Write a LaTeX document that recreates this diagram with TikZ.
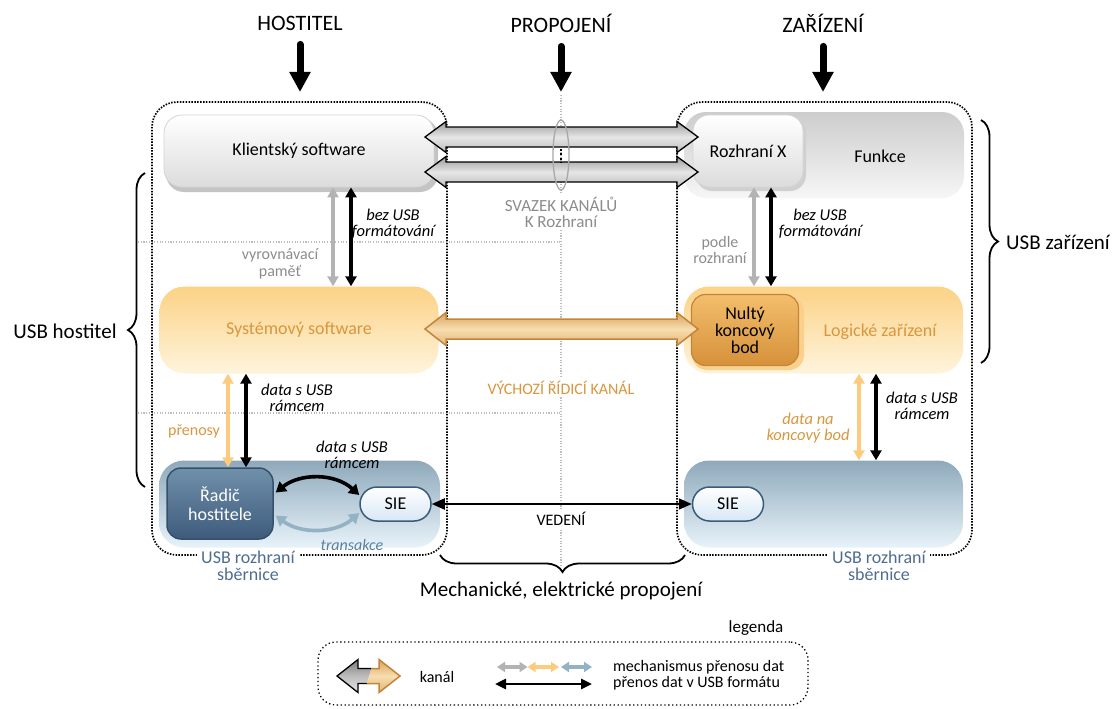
\documentclass[tikz,border=0pt]{standalone}
\usepackage{fontspec}
\setmainfont{Carlito}
\usetikzlibrary{arrows.meta,calc,decorations.pathreplacing}

\definecolor{txtgray}{HTML}{8C8C8C}
\definecolor{txtorange}{HTML}{D9963F}
\definecolor{txtblue}{HTML}{4E6D90}
\definecolor{txtslate}{HTML}{5C7F9C}
\definecolor{arrgray}{HTML}{B3B3B3}
\definecolor{arrorange}{HTML}{FDCB7E}
\definecolor{arrblue}{HTML}{93B2C4}
\definecolor{guidegray}{HTML}{BDBDBD}
\definecolor{ellgray}{HTML}{A8A8A8}
\definecolor{kshade}{HTML}{C4C4C4}
\definecolor{kbottom}{HTML}{DCDCDC}
\definecolor{kedge}{HTML}{D4D4D4}
\definecolor{funtop}{HTML}{CDCDCD}
\definecolor{funbot}{HTML}{F6F6F6}
\definecolor{orgtop}{HTML}{FCD286}
\definecolor{orgbot}{HTML}{FEF4DC}
\definecolor{nulrim}{HTML}{F9D18D}
\definecolor{nultop}{HTML}{F3BE6C}
\definecolor{nulbot}{HTML}{D6913A}
\definecolor{nuledge}{HTML}{C4843A}
\definecolor{bustop}{HTML}{8EA9BB}
\definecolor{busbot}{HTML}{E8F3FA}
\definecolor{radtop}{HTML}{7090AA}
\definecolor{radbot}{HTML}{3E5B7C}
\definecolor{radedge}{HTML}{34506C}
\definecolor{siebot}{HTML}{D8E8F5}
\definecolor{sieedge}{HTML}{3B5B7B}
\definecolor{chtop}{HTML}{9A9A9A}
\definecolor{chmid}{HTML}{E6E6E6}
\definecolor{chbot}{HTML}{BDBDBD}
\definecolor{otop}{HTML}{D9A35A}
\definecolor{omid}{HTML}{F7DDB0}
\definecolor{obot}{HTML}{E3B674}
\definecolor{oedge}{HTML}{C4843A}

% wide double-headed channel: left tip, right tip, centre y, head length,
% head half-width, shaft half-width, path style
\newcommand{\chanarrow}[7]{%
  \path[#7] (#1,#3) -- ({#1+#4},{#3-#5}) -- ({#1+#4},{#3-#6})
    -- ({#2-#4},{#3-#6}) -- ({#2-#4},{#3-#5}) -- (#2,#3)
    -- ({#2-#4},{#3+#5}) -- ({#2-#4},{#3+#6}) -- ({#1+#4},{#3+#6})
    -- ({#1+#4},{#3+#5}) -- cycle;}

\begin{document}
\begin{tikzpicture}[x=1pt,y=-1pt,
  every node/.style={inner sep=0pt, align=center, text=black},
  fs/.style 2 args={font=\fontsize{#1}{#2}\selectfont},
  it/.style={font=\fontsize{16.5}{16}\selectfont\itshape},
  frame/.style={draw, line width=1.7pt, dash pattern=on 1.5pt off 1.4pt, rounded corners=25pt},
  guide/.style={draw=guidegray, line width=1.1pt, dash pattern=on 1.1pt off 1.6pt},
  arr/.style={line width=3.2pt, {Triangle[length=10pt,width=11pt]}-{Triangle[length=10pt,width=11pt]}},
  carr/.style={line width=3.6pt, {Triangle[length=10pt,width=12pt]}-{Triangle[length=10pt,width=12pt]}},
  smallarr/.style={line width=3.4pt, {Triangle[length=8pt,width=10pt]}-{Triangle[length=8pt,width=10pt]}},
  bigarr/.style={line width=7pt, line cap=round, -{Triangle[length=20pt,width=20pt]}},
  hbrace/.style={decorate, decoration={brace, amplitude=17pt}, line width=1.8pt},
  chgray/.style={draw=black, line width=1.3pt, top color=chtop, bottom color=chbot, middle color=chmid},
  chorange/.style={draw=oedge, line width=1.5pt, top color=otop, bottom color=obot, middle color=omid}
]
\useasboundingbox (0,0) rectangle (1119,709);

% column titles
\node[fs={22}{24}] (thost) at (300,23) {HOSTITEL};
\node[fs={22}{24}] (tprop) at (561,23) {PROPOJENÍ};
\node[fs={22}{24}] (tdev) at (823,23) {ZAŘÍZENÍ};
\coordinate (hostin) at (300,92);
\coordinate (propin) at (561,92);
\coordinate (devin) at (823,92);
\draw[bigarr] ($(thost.south)+(0,14)$) -- (hostin);
\draw[bigarr] ($(tprop.south)+(0,14)$) -- (propin);
\draw[bigarr] ($(tdev.south)+(0,14)$) -- (devin);

% light guide lines
\draw[guide] (561,95) -- (561,566);
\draw[guide] (138,242) -- (561,242);
\draw[guide] (138,413) -- (561,413);

% dotted frames
\node[frame, minimum width=295pt, minimum height=453pt] (hostframe) at (299.5,328.5) {};
\node[frame, minimum width=295pt, minimum height=453pt] (devframe) at (824.5,328.5) {};

% host side
\node[rounded corners=18pt, fill=kshade, minimum width=272pt, minimum height=74pt] (klientsh) at (302,155) {};
\node[rounded corners=18pt, top color=white, bottom color=kbottom, draw=kedge, line width=.8pt,
      minimum width=270pt, minimum height=72pt, fs={18}{20}] (klient) at (299,151) {Klientský software};
\node[rounded corners=25pt, top color=orgtop, bottom color=orgbot, minimum width=279pt, minimum height=87pt,
      fs={18}{20}, text=txtorange] (sys) at (299,330) {Systémový software};
\node[rounded corners=25pt, top color=bustop, bottom color=busbot, minimum width=281pt, minimum height=87pt] (busL) at (299.5,504) {};
\node[rounded corners=14pt, top color=radtop, bottom color=radbot, draw=radedge, line width=1.5pt,
      minimum width=106pt, minimum height=71pt, fs={18}{19}, text=white] (rad) at (220,503.5) {Řadič\\hostitele};
\node[rounded corners=17pt, top color=white, bottom color=siebot, draw=sieedge, line width=1.5pt,
      minimum width=71pt, minimum height=34pt, fs={18}{20}] (sieL) at (395.5,504) {SIE};

% device side
\node[rounded corners=22pt, top color=funtop, bottom color=funbot, minimum width=280pt, minimum height=86pt] (funkce) at (824,155) {};
\node[fs={18}{20}] (funkcelbl) at (880,156) {Funkce};
\node[rounded corners=16pt, fill=kshade!80, minimum width=110pt, minimum height=74pt] (rozxsh) at (751,154) {};
\node[rounded corners=16pt, top color=white, bottom color=kbottom, draw=kedge, line width=.8pt,
      minimum width=110pt, minimum height=72pt, fs={18}{20}] (rozx) at (748,151) {Rozhraní X};
\node[rounded corners=25pt, top color=orgtop, bottom color=orgbot, minimum width=279pt, minimum height=87pt] (logic) at (823.5,330) {};
\node[fs={18}{20}, text=txtorange] (logiclbl) at (880,332) {Logické zařízení};
\node[rounded corners=15pt, fill=nulrim, minimum width=112pt, minimum height=74pt] (nultysh) at (748,333) {};
\node[rounded corners=14pt, top color=nultop, bottom color=nulbot, draw=nuledge, line width=1.2pt,
      minimum width=107pt, minimum height=71pt, fs={18}{17}] (nulty) at (745,330) {Nultý\\koncový\\bod};
\node[rounded corners=25pt, top color=bustop, bottom color=busbot, minimum width=279pt, minimum height=87pt] (busR) at (823.5,504) {};
\node[rounded corners=17pt, top color=white, bottom color=siebot, draw=sieedge, line width=1.5pt,
      minimum width=71pt, minimum height=34pt, fs={18}{20}] (sieR) at (728,504) {SIE};

% interface bundle and default control pipe
\chanarrow{425}{698}{137}{21}{15.5}{10}{chgray}
\chanarrow{425}{698}{172}{21}{15.5}{10}{chgray}
\draw[ellgray, line width=1.3pt] (561,155) ellipse [x radius=8, y radius=35];
\draw[line width=1.8pt, dash pattern=on 1.8pt off 2.6pt] (561,149) -- (561,163);
\chanarrow{425}{698}{329}{21}{16.5}{10}{chorange}

\node[fs={17}{16}, text=txtgray, fill=white, inner sep=2pt] (svazek) at (561,212) {SVAZEK KANÁLŮ\\K Rozhraní};
\node[fs={16}{18}, text=txtorange, fill=white, inner sep=2pt] (vychozi) at (561,388) {VÝCHOZÍ ŘÍDICÍ KANÁL};

% host transfers
\draw[arr, draw=arrgray] ([xshift=34pt]klient.south) -- ([xshift=34pt]sys.north);
\draw[arr] ([xshift=52pt]klient.south) -- ([xshift=52pt]sys.north);
\node[it] (l1) at (393,224) {bez USB\\formátování};
\node[fs={16}{17}, text=txtgray] (l2) at (280,264) {vyrovnávací\\paměť};
\draw[arr, draw=arrorange] ([xshift=-71pt]sys.south) -- ([xshift=8pt]rad.north);
\draw[arr] ([xshift=-53pt]sys.south) -- ([xshift=26pt]rad.north);
\node[it] (l3) at (297,398) {data s USB\\rámcem};
\node[fs={16}{18}, text=txtorange] (l4) at (194,431) {přenosy};
\draw[carr] ($(rad.east)+(2,-11)$) .. controls (300,473) and (335,473) .. ($(sieL.west)+(0,-9)$);
\draw[carr, draw=arrblue] ($(rad.east)+(2,12)$) .. controls (300,534) and (335,534) .. ($(sieL.west)+(0,9)$);
\node[it] (l5) at (352,455) {data s USB\\rámcem};
\node[text=txtslate, font=\fontsize{16}{18}\selectfont\itshape] (l6) at (352,545) {transakce};

% device transfers
\draw[arr, draw=arrgray] ([xshift=6pt]rozx.south) -- ([xshift=-69.5pt]logic.north);
\draw[arr] ([xshift=23pt]rozx.south) -- ([xshift=-52.5pt]logic.north);
\node[fs={16}{16}, text=txtgray] (l7) at (720,250) {podle\\rozhraní};
\node[it] (l8) at (820,224) {bez USB\\formátování};
\draw[arr, draw=arrorange] ([xshift=35.5pt]logic.south) -- ([xshift=35.5pt]busR.north);
\draw[arr] ([xshift=52.5pt]logic.south) -- ([xshift=52.5pt]busR.north);
\node[it, text=txtorange] (l9) at (808,428) {data na\\koncový bod};
\node[it] (l10) at (922,406) {data s USB\\rámcem};

% cable
\draw[line width=2pt, {Triangle[length=13pt,width=11pt]}-{Triangle[length=13pt,width=11pt]}] (sieL.east) -- (sieR.west);
\node[fs={16}{18}, fill=white, inner sep=2pt] (vedeni) at (561,519) {VEDENÍ};

% bus interface captions
\node[fs={18}{20}, text=txtblue, fill=white, inner xsep=4pt, inner ysep=1pt] (bil1) at (248,557) {USB rozhraní};
\node[fs={18}{20}, text=txtblue] (bil2) at (248,574) {sběrnice};
\node[fs={18}{20}, text=txtblue, fill=white, inner xsep=4pt, inner ysep=1pt] (bir1) at (879,557) {USB rozhraní};
\node[fs={18}{20}, text=txtblue] (bir2) at (879,574) {sběrnice};

% braces
\draw[hbrace] (145,487) -- (145,173);
\node[fs={21}{23}] (usbhost) at (65,331) {USB hostitel};
\draw[hbrace] (981,120) -- (981,363);
\node[fs={21}{23}] (usbdev) at (1058,242) {USB zařízení};
\draw[hbrace] (685,555) -- (440,555);
\node[fs={21}{23}] (mech) at (561,591) {Mechanické, elektrické propojení};

% legend
\node[draw, line width=1.3pt, dash pattern=on 1.3pt off 2.6pt, rounded corners=18pt,
      minimum width=490pt, minimum height=63pt] (legframe) at (563,673.5) {};
\node[fs={17}{19}] (legtitle) at (756,628) {legenda};
\begin{scope}
  \clip (330,650) -- (377,650) -- (362,700) -- (330,700) -- cycle;
  \chanarrow{337}{400}{676}{21}{16.5}{7.5}{draw=black, line width=1.3pt, top color=chtop!80!black, bottom color=chmid, middle color=chbot}
\end{scope}
\begin{scope}
  \clip (377,650) -- (410,650) -- (410,700) -- (362,700) -- cycle;
  \chanarrow{337}{400}{676}{21}{16.5}{7.5}{chorange}
\end{scope}
\node[fs={16}{18}] (legkanal) at (437,677) {kanál};
\coordinate (lg0) at (497,667);
\coordinate (lg1) at (527.5,667);
\coordinate (lg2) at (561,667);
\coordinate (lg3) at (592,667);
\draw[smallarr, draw=arrgray] (lg0) -- (lg1);
\draw[smallarr, draw=arrorange] (lg1) -- ($(lg2)+(-2,0)$);
\draw[smallarr, draw=arrblue] (lg2) -- (lg3);
\coordinate (lb0) at (495,684);
\coordinate (lb1) at (592,684);
\draw[line width=2.6pt, {Triangle[length=11pt,width=10pt]}-{Triangle[length=11pt,width=10pt]}] (lb0) -- (lb1);
\node[fs={16}{18}, anchor=west] (legmech) at (613,667) {mechanismus přenosu dat};
\node[fs={16}{18}, anchor=west] (legusb) at (613,683) {přenos dat v USB formátu};
\end{tikzpicture}
\end{document}
